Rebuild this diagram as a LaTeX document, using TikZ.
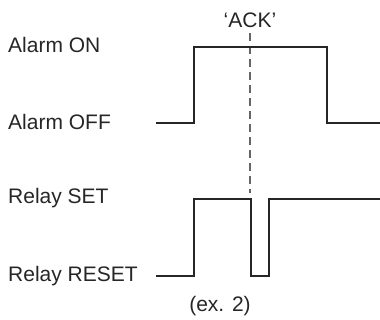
\documentclass[tikz,border=0pt]{standalone}
\usepackage{fontspec}
\setmainfont{Liberation Sans}
\usepackage{tikz}
\usetikzlibrary{positioning}

\begin{document}
\begin{tikzpicture}[
    x=1pt, y=-1pt,
    level/.style={anchor=base west, inner sep=0pt, font=\fontsize{21}{25}\selectfont, text=black!85},
    note/.style={anchor=base, inner sep=0pt, font=\fontsize{21}{25}\selectfont, text=black!85},
    wave/.style={line width=2.7pt, color=black!85, line join=miter},
    marker/.style={line width=1.4pt, color=black!60, dash pattern=on 8pt off 5pt},
]
\useasboundingbox (0,0) rectangle (380,320);

% ── Level labels ──
\node[level] (alarm_on)  at (8,53)  {Alarm ON};
\node[level] (alarm_off) at (8,130) {Alarm OFF};
\node[level] (relay_set) at (8,204) {Relay SET};
\node[level] (relay_rst) at (8,282) {Relay RESET};

% ── Acknowledge marker ──
\node[note] (ack) at (250,28) {‘ACK’};
\coordinate (ack_top) at (250,33);
\coordinate (ack_bot) at (250,193);
\draw[marker] (ack_top) -- (ack_bot);

% ── Alarm waveform ──
\coordinate (a0) at (156,123);
\draw[wave] (a0) -- (194,123) -- (194,47) -- (327,47) -- (327,123) -- (380,123);

% ── Relay waveform ──
\coordinate (r0) at (156,276);
\draw[wave] (r0) -- (194,276) -- (194,199) -- (251,199) -- (251,276)
    -- (269,276) -- (269,199) -- (380,199);

% ── Caption ──
\node[note] (caption) at (220,312) {(ex. 2)};

\end{tikzpicture}
\end{document}
